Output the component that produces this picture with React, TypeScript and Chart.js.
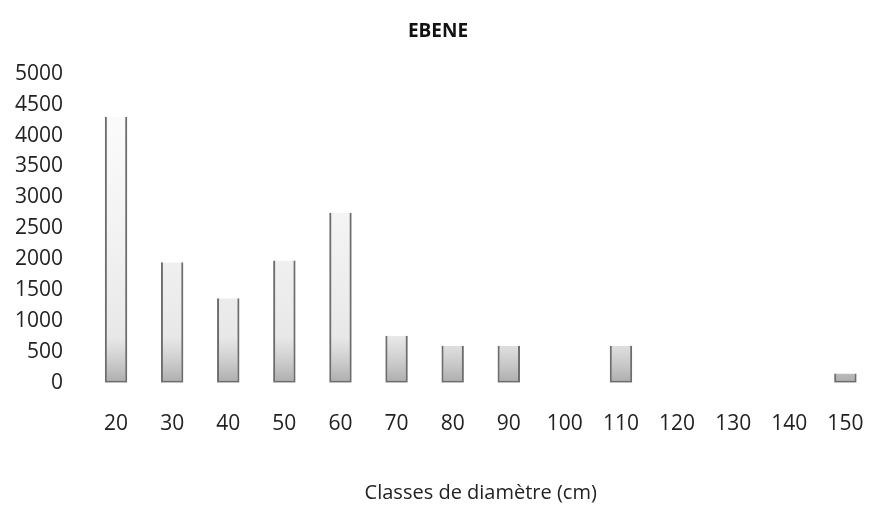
import React, { useEffect, useRef } from "react";
import { Chart, registerables } from "chart.js";

Chart.register(...registerables);

const categories = ["20", "30", "40", "50", "60", "70", "80", "90", "100", "110", "120", "130", "140", "150"];
const values = [4300, 1950, 1370, 1980, 2750, 760, 600, 600, 0, 600, 0, 0, 0, 150];
const chartTitle = "EBENE";
const xAxisTitle = "Classes de diamètre (cm)";

export default function App() {
  const ref = useRef<HTMLCanvasElement | null>(null);

  useEffect(() => {
    if (!ref.current) return;
    const font = "'Open Sans', Lato, sans-serif";
    const chart = new Chart(ref.current, {
      type: "bar",
      data: {
        labels: categories,
        datasets: [
          {
            data: values,
            backgroundColor: (c: any) => {
              const area = c.chart.chartArea;
              if (!area) return "rgba(120,120,120,0.3)";
              const g = c.chart.ctx.createLinearGradient(0, area.bottom, 0, area.top);
              g.addColorStop(0, "rgba(90,90,90,0.5)");
              g.addColorStop(0.15, "rgba(150,150,150,0.22)");
              g.addColorStop(1, "rgba(210,210,210,0.06)");
              return g;
            },
            borderColor: "rgba(60,60,60,0.75)",
            borderWidth: { left: 2, right: 2, bottom: 2, top: 0 } as any,
            borderSkipped: false,
            barPercentage: 0.4,
            categoryPercentage: 1,
          },
        ],
      },
      options: {
        animation: false,
        responsive: false,
        maintainAspectRatio: false,
        layout: { padding: { top: 0, right: 17, bottom: 0, left: 0 } },
        plugins: {
          legend: { display: false },
          tooltip: { enabled: false },
          title: {
            display: true,
            text: chartTitle,
            color: "#111",
            font: { family: font, size: 19, weight: "bold" },
            padding: { top: 20, bottom: 31 },
          },
        },
        scales: {
          x: {
            grid: { display: false, drawTicks: false },
            border: { display: false },
            ticks: {
              color: "#222",
              font: { family: font, size: 21 },
              padding: 29,
              maxRotation: 0,
              autoSkip: false,
            },
            title: {
              display: true,
              text: xAxisTitle,
              color: "#222",
              font: { family: font, size: 20 },
              padding: { top: 15, bottom: 0 },
            },
          },
          y: {
            min: 0,
            max: 5000,
            grid: { display: false, drawTicks: false },
            border: { display: false },
            ticks: {
              stepSize: 500,
              autoSkip: false,
              color: "#222",
              font: { family: font, size: 21 },
              padding: 25,
              callback: (v: any) => String(v),
            },
            afterFit: (s: any) => {
              s.width = 88;
            },
          },
        },
      },
    });
    return () => chart.destroy();
  }, []);

  return (
    <canvas
      ref={ref}
      width={893}
      height={505}
      style={{ display: "block", position: "absolute", left: 0, top: 0 }}
    />
  );
}
